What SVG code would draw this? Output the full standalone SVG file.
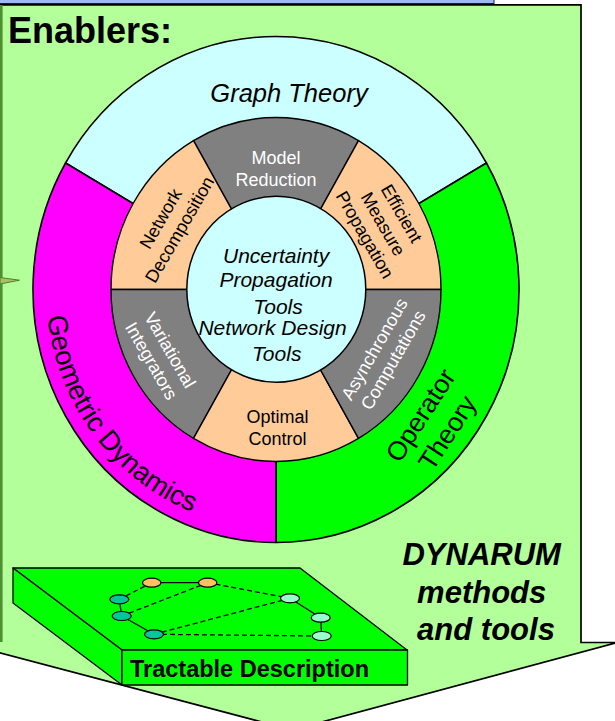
<svg xmlns="http://www.w3.org/2000/svg" width="615" height="721" viewBox="0 0 615 721">
  <style>
    .ring{stroke:#000;stroke-width:1.6;stroke-linejoin:round}
    .seg{stroke:#000;stroke-width:1.4;stroke-linejoin:round}
    .sans{font-family:"Liberation Sans",Arial,Helvetica,sans-serif}
    .lbl{font-size:18px;text-anchor:middle}
    .w{fill:#ffffff}
    .k{fill:#000000}
    .it{font-style:italic;text-anchor:middle}
    .gray{fill:#808080}
    .peach{fill:#ffcc99}
    .edge{stroke:#000;stroke-width:1.3;fill:none}
    .dash{stroke-dasharray:5 3}
    .nd{stroke:#000;stroke-width:1.2}
    .slab{fill:#00ff00;stroke:#000;stroke-width:1.3;stroke-linejoin:round}
  </style>
  <defs>
    <!-- baseline for the curved "Geometric Dynamics" label -->
    <path id="geoArc" d="M 46,289.5 A 230 239 0 0 0 276,528.5"/>
  </defs>

  <rect width="615" height="721" fill="#ffffff"/>

  <!-- blue strip along the top -->
  <rect x="-2" y="-2" width="496" height="5.5" fill="#99bbee" stroke="#1a1a40" stroke-width="1"/>

  <!-- big down-arrow panel -->
  <g id="panel">
    <path d="M -3,4.8 H 581 V 642.5 H 617 L 292,730 L -35,643.5 H -3 Z" fill="#b3ff99" stroke="#000" stroke-width="1.7" stroke-linejoin="miter"/>
    <line x1="1.3" y1="5" x2="1.3" y2="642" stroke="#4f8f2f" stroke-width="2.6"/>
    <polygon points="0,277.5 19.5,280.2 0,284" fill="#a8c060" stroke="#4f7f2f" stroke-width="1"/>
    <text x="8" y="43" class="sans" font-size="36" font-weight="bold" fill="#000">Enablers:</text>
  </g>

  <!-- outer ring -->
  <g id="graph-theory">
    <path class="ring" fill="#ccffff" d="M 276,289.5 L 486.44,163 A 243 253 0 0 0 65.56,163 Z"/>
    <text x="289" y="102" class="sans it" font-size="25.5" fill="#000">Graph Theory</text>
  </g>
  <g id="operator-theory">
    <path class="ring" fill="#00ff00" d="M 276,289.5 L 486.44,163 A 243 253 0 0 1 276,542.5 Z"/>
    <g transform="translate(434,424) rotate(-57)">
      <text class="sans" font-size="26.5" text-anchor="middle" fill="#000"><tspan x="0" y="-7">Operator</tspan><tspan x="0" y="25">Theory</tspan></text>
    </g>
  </g>
  <g id="geometric-dynamics">
    <path class="ring" fill="#ff00ff" d="M 276,289.5 L 65.56,163 A 243 253 0 0 0 276,542.5 Z"/>
    <text class="sans" font-size="27.5" fill="#000"><textPath href="#geoArc" startOffset="27">Geometric Dynamics</textPath></text>
  </g>

  <!-- middle ring of six segments -->
  <g id="model-reduction">
    <path class="seg gray" d="M 276,289.5 L 358.5,140.54 A 165 172 0 0 0 193.5,140.54 Z"/>
    <text class="sans lbl w"><tspan x="276" y="163.5">Model</tspan><tspan x="276" y="185.5">Reduction</tspan></text>
  </g>
  <g id="efficient-measure-propagation">
    <path class="seg peach" d="M 276,289.5 L 441,289.5 A 165 172 0 0 0 358.5,140.54 Z"/>
    <g transform="translate(383.3,224) rotate(60)">
      <text class="sans lbl k"><tspan x="0" y="-15">Efficient</tspan><tspan x="0" y="6.3">Measure</tspan><tspan x="0" y="27.6">Propagation</tspan></text>
    </g>
  </g>
  <g id="network-decomposition">
    <path class="seg peach" d="M 276,289.5 L 193.5,140.54 A 165 172 0 0 0 111,289.5 Z"/>
    <g transform="translate(170,224) rotate(-60)">
      <text class="sans lbl k"><tspan x="0" y="-4.6">Network</tspan><tspan x="0" y="17.2">Decomposition</tspan></text>
    </g>
  </g>
  <g id="variational-integrators">
    <path class="seg gray" d="M 276,289.5 L 111,289.5 A 165 172 0 0 0 193.5,438.46 Z"/>
    <g transform="translate(160.8,355.4) rotate(60)">
      <text class="sans lbl w"><tspan x="0" y="-4.6">Variational</tspan><tspan x="0" y="17.2">Integrators</tspan></text>
    </g>
  </g>
  <g id="optimal-control">
    <path class="seg peach" d="M 276,289.5 L 193.5,438.46 A 165 172 0 0 0 358.5,438.46 Z"/>
    <text class="sans lbl k"><tspan x="277.5" y="422.7">Optimal</tspan><tspan x="277.5" y="445">Control</tspan></text>
  </g>
  <g id="asynchronous-computations">
    <path class="seg gray" d="M 276,289.5 L 358.5,438.46 A 165 172 0 0 0 441,289.5 Z"/>
    <g transform="translate(383.7,354.5) rotate(-60)">
      <text class="sans lbl w"><tspan x="0" y="-4.6">Asynchronous</tspan><tspan x="0" y="17.2">Computations</tspan></text>
    </g>
  </g>

  <!-- hub -->
  <g id="tools-hub">
    <ellipse cx="276.3" cy="289.3" rx="89.5" ry="93" fill="#ccffff" stroke="#000" stroke-width="1.5"/>
    <text class="sans it" font-size="21" fill="#000">
      <tspan x="279" y="263.3">Uncertainty</tspan>
      <tspan x="279" y="287">Propagation</tspan>
      <tspan x="281" y="313.8">Tools</tspan>
      <tspan x="275.5" y="335.3">Network Design</tspan>
      <tspan x="276.7" y="361">Tools</tspan>
    </text>
  </g>

  <!-- tractable description slab -->
  <g id="tractable-description">
    <polygon class="slab" points="13,568 300,568 407,650 122,650"/>
    <polygon class="slab" points="13,568 122,650 122,685 13,603"/>
    <rect class="slab" x="122" y="650" width="285.5" height="35"/>
    <text x="130" y="676.5" class="sans" font-size="23.5" font-weight="bold" fill="#000">Tractable Description</text>
  </g>

  <!-- links of the small network on the slab -->
  <g id="connectors">
    <line class="edge" x1="151.7" y1="582.7" x2="207.7" y2="582.7"/>
    <line class="edge dash" x1="151.7" y1="582.7" x2="119.3" y2="599.3"/>
    <line class="edge" x1="119.3" y1="599.3" x2="121.7" y2="616"/>
    <line class="edge" x1="121.7" y1="616" x2="154" y2="634.3"/>
    <line class="edge dash" x1="121.7" y1="616" x2="207.7" y2="582.7"/>
    <line class="edge dash" x1="207.7" y1="582.7" x2="290" y2="598.3"/>
    <line class="edge dash" x1="154" y1="634.3" x2="290" y2="598.3"/>
    <line class="edge dash" x1="154" y1="634.3" x2="321.7" y2="636"/>
    <line class="edge" x1="290" y1="598.3" x2="320.7" y2="617.7"/>
    <line class="edge" x1="320.7" y1="617.7" x2="321.7" y2="636"/>
  </g>

  <g id="net-nodes">
    <g id="node-o1"><ellipse class="nd" cx="151.7" cy="582.7" rx="9.2" ry="4.5" fill="#ffc060"/></g>
    <g id="node-o2"><ellipse class="nd" cx="207.7" cy="582.7" rx="9.2" ry="4.5" fill="#ffc060"/></g>
    <g id="node-a"><ellipse class="nd" cx="119.3" cy="599.3" rx="9.5" ry="4.5" fill="#00c89a"/></g>
    <g id="node-b"><ellipse class="nd" cx="121.7" cy="616" rx="9.5" ry="4.5" fill="#00c89a"/></g>
    <g id="node-c"><ellipse class="nd" cx="154" cy="634.3" rx="9.5" ry="4.5" fill="#00c89a"/></g>
    <g id="node-d"><ellipse class="nd" cx="290" cy="598.3" rx="9.5" ry="4.5" fill="#99ffcc"/></g>
    <g id="node-e"><ellipse class="nd" cx="320.7" cy="617.7" rx="9.5" ry="4.5" fill="#99ffcc"/></g>
    <g id="node-f"><ellipse class="nd" cx="321.7" cy="636" rx="9.5" ry="4.5" fill="#99ffcc"/></g>
  </g>

  <g id="dynarum-caption">
    <text class="sans" font-size="31" font-weight="bold" font-style="italic" text-anchor="middle" fill="#000">
      <tspan x="486" y="565">DYNARUM</tspan>
      <tspan x="486" y="602.5">methods</tspan>
      <tspan x="486" y="640">and tools</tspan>
    </text>
  </g>
</svg>
